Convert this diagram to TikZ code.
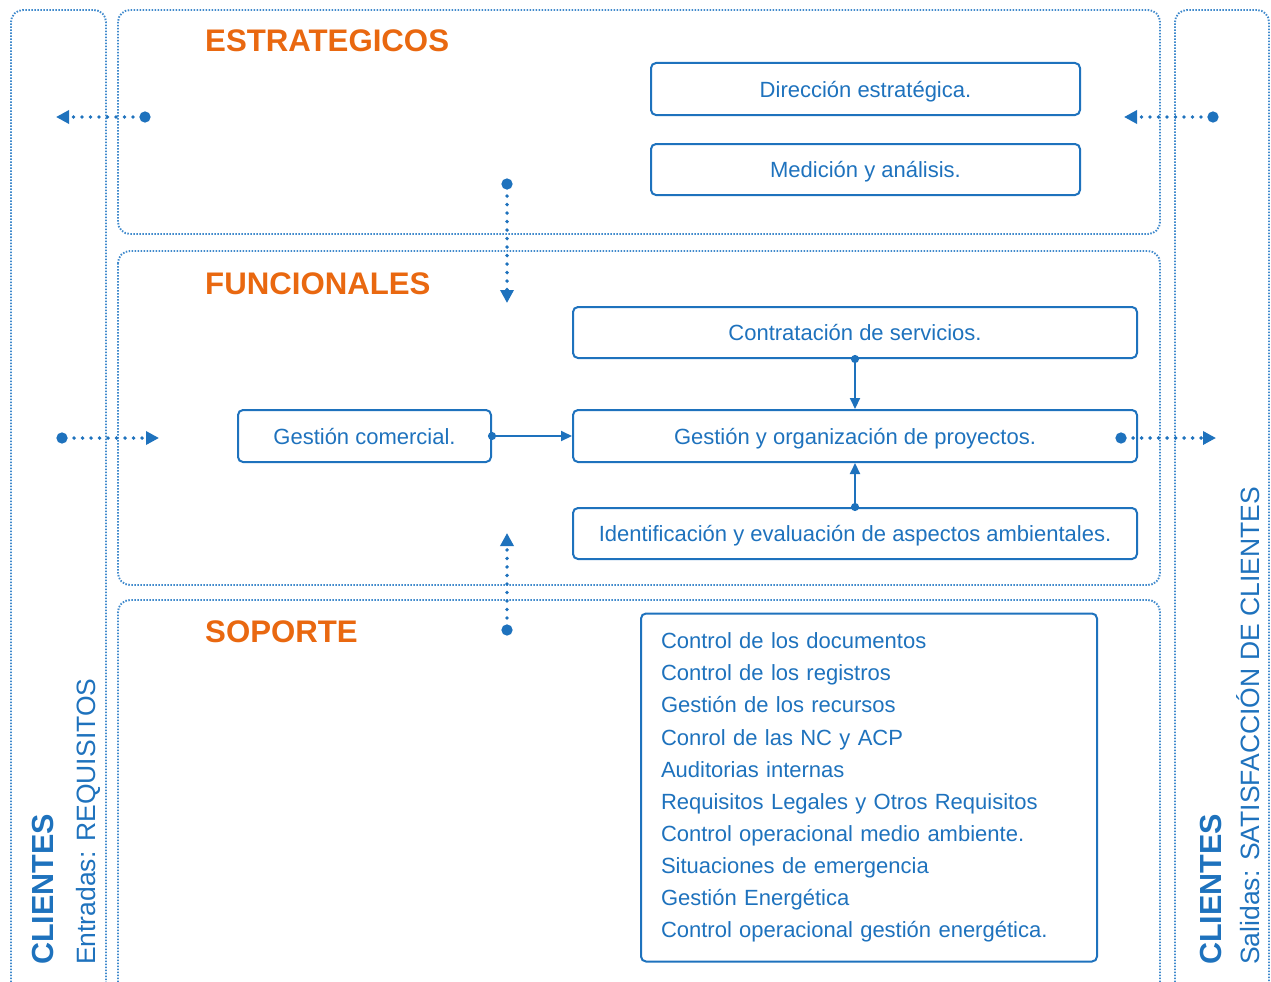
\documentclass[tikz,border=0pt]{standalone}
\usepackage{fontspec}
\setmainfont{Liberation Sans}
\usepackage{xcolor}
\usetikzlibrary{positioning, arrows.meta}
\definecolor{procblue}{RGB}{30,114,189}
\definecolor{zoneblue}{RGB}{64,138,204}
\definecolor{titorange}{RGB}{233,104,16}
\newcommand{\boxfont}{\fontsize{22}{32.1}\selectfont}
\newcommand{\titfont}{\fontsize{31.2}{34}\selectfont\bfseries}
\newcommand{\cltfont}{\fontsize{30.5}{34}\selectfont\bfseries}
\newcommand{\subfont}{\fontsize{26.5}{30}\selectfont}

\begin{document}
\begin{tikzpicture}[x=1pt, y=-1pt,
  zone/.style={draw=zoneblue, line width=1.9pt, dash pattern=on 1.5pt off 1.5pt, rounded corners=12pt},
  proc/.style={draw=procblue, line width=2pt, rounded corners=5pt, text=procblue, font=\boxfont, inner sep=0pt},
  oneline/.style={proc, text height=16pt, text depth=0pt},
  title/.style={text=titorange, font=\titfont, anchor=base west, inner sep=0pt},
  side/.style={text=procblue, rotate=90, anchor=base west, inner sep=0pt},
  flow/.style={procblue, line width=2pt, shorten <=-4pt, {Circle[length=8pt]}-{Triangle[length=11pt,width=10pt]}},
  io/.style={procblue, line width=3.8pt, line cap=round, dash pattern=on 0pt off 8.5pt, {Circle[length=11pt]}-{Triangle[length=13pt,width=13pt]}}]
\useasboundingbox (0,0) rectangle (1271,982);

% zones
\draw[zone] (11,982) -- (11,10) -- (106,10) -- (106,982);
\draw[zone] (118,10) rectangle (1160,234);
\draw[zone] (118,251) rectangle (1160,585);
\draw[zone] (118,982) -- (118,600) -- (1160,600) -- (1160,982);
\draw[zone] (1175,982) -- (1175,10) -- (1269,10) -- (1269,982);

% titles
\node[title] (estrat) at (205,52) {ESTRATEGICOS};
\node[title] (funcion) at (205,294) {FUNCIONALES};
\node[title] (soporte) at (205,642) {SOPORTE};

\node[side, font=\cltfont] (clientesIn) at (53,965) {CLIENTES};
\node[side, font=\subfont] (entradas) at (95,965) {Entradas: REQUISITOS};
\node[side, font=\cltfont] (clientesOut) at (1221,965) {CLIENTES};
\node[side, font=\subfont] (salidas) at (1259,965) {Salidas: SATISFACCIÓN DE CLIENTES};

% processes
\node[oneline, minimum width=429, minimum height=52] (direccion) at (865.5,89) {Dirección estratégica.};
\node[oneline, minimum width=429, minimum height=51] (medicion) at (865.5,169.5) {Medición y análisis.};
\node[oneline, minimum width=564, minimum height=51] (contrat) at (855,332.5) {Contratación de servicios.};
\node[oneline, minimum width=564, minimum height=52] (gestproy) at (855,436) {Gestión y organización de proyectos.};
\node[oneline, minimum width=564, minimum height=51] (ident) at (855,533.5) {Identificación y evaluación de aspectos ambientales.};
\node[oneline, minimum width=253, minimum height=52] (gestcom) at (364.5,436) {Gestión comercial.};
\node[proc, minimum width=456, minimum height=348, text width=416, align=left] (apoyo) at (869,787.5) {%
Control de los documentos\\
Control de los registros\\
Gestión de los recursos\\
Conrol de las NC y ACP\\
Auditorias internas\\
Requisitos Legales y Otros Requisitos\\
Control operacional medio ambiente.\\
Situaciones de emergencia\\
Gestión Energética\\
Control operacional gestión energética.};

\draw[flow] (contrat.south) -- (gestproy.north);
\draw[flow] (ident.north) -- (gestproy.south);
\draw[flow] (gestcom.east) -- (gestproy.west);

% inputs and outputs
\coordinate (estL) at (150.5,117);
\coordinate (estLtip) at (56,117);
\coordinate (estR) at (1218.5,117);
\coordinate (estRtip) at (1124,117);
\coordinate (bajaA) at (507,178.5);
\coordinate (bajaB) at (507,303);
\coordinate (subeA) at (507,635.5);
\coordinate (subeB) at (507,533);
\coordinate (entraA) at (56.5,438);
\coordinate (entraB) at (159,438);
\coordinate (saleA) at (1115.5,438);
\coordinate (saleB) at (1216,438);
\draw[io] (estL) -- (estLtip);
\draw[io] (estR) -- (estRtip);
\draw[io] (bajaA) -- (bajaB);
\draw[io] (subeA) -- (subeB);
\draw[io] (entraA) -- (entraB);
\draw[io] (saleA) -- (saleB);
\end{tikzpicture}
\end{document}
